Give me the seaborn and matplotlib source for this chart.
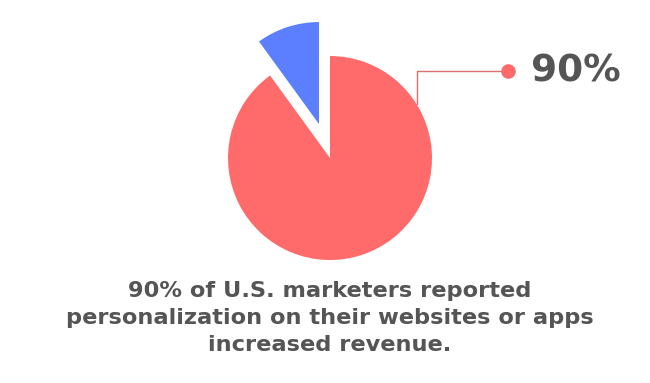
import numpy as np
import matplotlib
matplotlib.use("Agg")
import matplotlib.pyplot as plt
import seaborn as sns

# Data
labels = ["Reported increased revenue", "Other"]
values = [90, 10]
colors = ["#FF6B6B", "#5B7FFF"]
explode_frac = [0, 0.35]
value_label = "90%"
caption = "90% of U.S. marketers reported\npersonalization on their websites or apps\nincreased revenue."

sns.set_theme(style="white")
plt.rcParams['font.family'] = ['DejaVu Sans']

W, H = 650, 383
fig = plt.figure(figsize=(W / 100, H / 100), dpi=100)
ax = fig.add_axes([0, 0, 1, 1])

cx, cy, r = 330, H - 158, 102
ax.pie(values, colors=colors, explode=[e * r for e in explode_frac], startangle=90,
       counterclock=False, center=(cx, cy), radius=r,
       wedgeprops=dict(linewidth=0), frame=True)
ax.set_xlim(0, W)
ax.set_ylim(0, H)
ax.set_aspect("equal")
ax.axis("off")

# connector from pie edge
ang = np.deg2rad(32)
ex, ey = cx + r * np.cos(ang), cy + r * np.sin(ang)
ly = H - 71
dot_x = 508
ax.plot([ex, ex, dot_x], [ey, ly, ly], color="#D9706F", lw=1.0, zorder=3)
ax.scatter([dot_x], [ly], s=110, color="#FF6B6B", zorder=4, linewidths=0)
ax.text(531, ly, value_label, fontsize=27, fontweight="bold", color="#555555",
        va="center", ha="left")

ax.text(cx, H - 318, caption, fontsize=16.2, fontweight="bold", color="#555555",
        ha="center", va="center", linespacing=1.45)

fig.savefig("out.png", dpi=100, facecolor="white")
